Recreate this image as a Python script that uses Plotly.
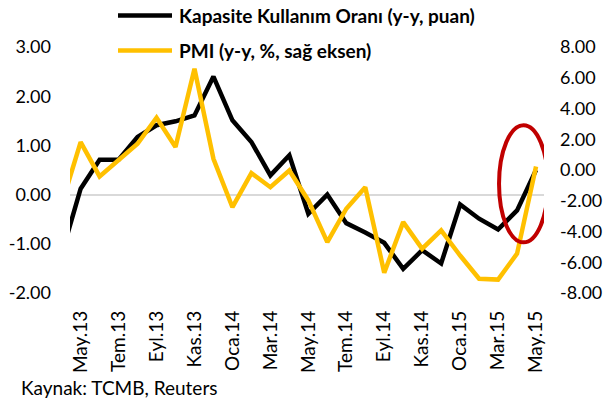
import plotly.graph_objects as go

# ---- data ----
months = ["Nis.13", "May.13", "Haz.13", "Tem.13", "Ağu.13", "Eyl.13", "Eki.13", "Kas.13",
          "Ara.13", "Oca.14", "Şub.14", "Mar.14", "Nis.14", "May.14", "Haz.14", "Tem.14",
          "Ağu.14", "Eyl.14", "Eki.14", "Kas.14", "Ara.14", "Oca.15", "Şub.15", "Mar.15",
          "Nis.15", "May.15"]
kapasite = [-1.21, 0.12, 0.71, 0.71, 1.17, 1.41, 1.49, 1.61, 2.40, 1.51, 1.07, 0.39, 0.80,
            -0.39, 0.00, -0.58, -0.77, -0.98, -1.51, -1.13, -1.40, -0.20, -0.49, -0.71,
            -0.32, 0.50]
pmi = [-2.23, 1.81, -0.42, 0.62, 1.71, 3.40, 1.49, 6.58, 0.73, -2.42, -0.20, -1.12, -0.03,
       -1.98, -4.69, -2.52, -1.12, -6.68, -3.39, -5.12, -3.93, -5.56, -7.07, -7.13, -5.44,
       0.23]
tick_labels = ["May.13", "Tem.13", "Eyl.13", "Kas.13", "Oca.14", "Mar.14", "May.14",
               "Tem.14", "Eyl.14", "Kas.14", "Oca.15", "Mar.15", "May.15"]
left_ticks = [-2, -1, 0, 1, 2, 3]
right_ticks = [-8, -6, -4, -2, 0, 2, 4, 6, 8]
name_kko = "Kapasite Kullanım Oranı (y-y, puan)"
name_pmi = "PMI (y-y, %, sağ eksen)"
source = "Kaynak: TCMB, Reuters"

# ---- layout constants (pixels) ----
W, H = 607, 401
ML, MR, MT, MB = 70, 63, 46.5, 108.4
PW = W - ML - MR
PH = H - MT - MB
FONT = "Lato"
BLACK = "#000000"
YELLOW = "#FFC000"
RED = "#C00000"


def px_x(p):
    return (p - ML) / PW


def px_y(p):
    return (H - MB - p) / PH


fig = go.Figure()
fig.add_trace(go.Scatter(x=months, y=kapasite, name=name_kko, mode="lines",
                         line=dict(color=BLACK, width=4.5), yaxis="y",
                         showlegend=False))
fig.add_trace(go.Scatter(x=months, y=pmi, name=name_pmi, mode="lines",
                         line=dict(color=YELLOW, width=4.5), yaxis="y2",
                         showlegend=False))

fig.update_layout(
    width=W, height=H,
    margin=dict(l=ML, r=MR, t=MT, b=MB, pad=0, autoexpand=False),
    paper_bgcolor="white", plot_bgcolor="white",
    font=dict(family=FONT, color="#000000", size=18),
    xaxis=dict(type="category", categoryorder="array", categoryarray=months,
               range=[0.44, 25.42], tickmode="array", tickvals=tick_labels,
               ticktext=tick_labels, tickangle=-90, tickfont=dict(size=19),
               showgrid=False, zeroline=False, showline=False, ticks="",
               ticklabelstandoff=13, automargin=False),
    yaxis=dict(range=[-2, 3], tickmode="array", tickvals=left_ticks,
               ticktext=[f"{v:.2f}" for v in left_ticks], showgrid=False,
               zeroline=True, zerolinecolor="#D9D9D9", zerolinewidth=2,
               showline=False, ticks="", tickfont=dict(size=18),
               ticklabelstandoff=18, automargin=False),
    yaxis2=dict(range=[-8, 8], overlaying="y", side="right", tickmode="array",
                tickvals=right_ticks, ticktext=[f"{v:.2f}" for v in right_ticks],
                showgrid=False, zeroline=False, showline=False, ticks="",
                tickfont=dict(size=18), ticklabelstandoff=15, automargin=False),
)

# highlight ellipse around the latest observations
fig.add_shape(type="circle", xref="x", yref="y", x0=23.05, x1=25.63, y0=-0.97, y1=1.41,
              line=dict(color=RED, width=4))

# custom legend (long line samples like the reference)
for ypix, color, label in [(15, BLACK, name_kko), (50, YELLOW, name_pmi)]:
    fig.add_shape(type="line", xref="paper", yref="paper", x0=px_x(118), x1=px_x(172),
                  y0=px_y(ypix), y1=px_y(ypix), line=dict(color=color, width=4.5))
    fig.add_annotation(xref="paper", yref="paper", x=px_x(177), y=px_y(ypix),
                       xanchor="left", yanchor="middle", showarrow=False,
                       text=f"<b>{label}</b>", font=dict(size=19, family=FONT))

fig.add_annotation(xref="paper", yref="paper", x=px_x(19), y=px_y(387),
                   xanchor="left", yanchor="middle", showarrow=False,
                   text=source, font=dict(size=19, family=FONT))

fig.write_html("out.html", config={"displayModeBar": False},
               post_script="document.body.style.margin='0';")
